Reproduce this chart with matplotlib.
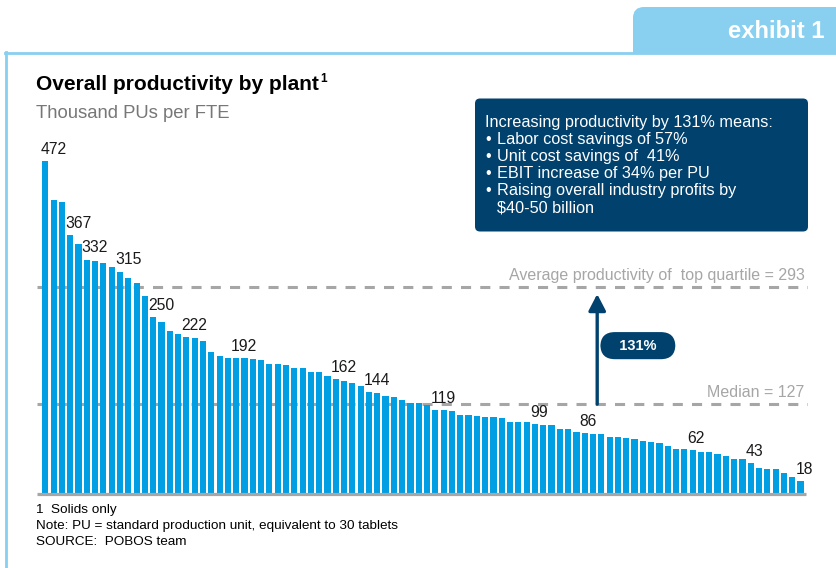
import numpy as np
import matplotlib
matplotlib.use("Agg")
from matplotlib import pyplot as plt
from matplotlib.patches import FancyBboxPatch

plt.rcParams['font.family'] = ['Liberation Sans', 'DejaVu Sans']

# thousand PUs per FTE, plants sorted high to low
productivity = [472, 417, 414, 367, 354, 332, 330, 327, 321, 315,
                306, 299, 281, 250, 244, 231, 226, 222, 221, 217,
                201, 195, 193, 192, 192, 191, 190, 184, 184, 183,
                178, 178, 173, 173, 167, 162, 160, 157, 153, 144,
                143, 139, 137, 133, 129, 129, 126, 119, 119, 117,
                112, 112, 110, 109, 109, 107, 102, 102, 102, 99,
                98, 98, 92, 92, 88, 86, 85, 85, 81, 81,
                79, 78, 75, 73, 72, 67, 63, 63, 62, 59,
                59, 56, 53, 49, 49, 43, 36, 35, 35, 29,
                24, 18]
labelled = [0, 3, 5, 9, 13, 17, 23, 35, 39, 47, 59, 65, 78, 85, 91]

top_quartile = 293
median = 127

box_lines = ["Labor cost savings of 57%",
             "Unit cost savings of  41%",
             "EBIT increase of 34% per PU",
             "Raising overall industry profits by"]

bar_blue = '#009FE3'
navy = '#00416E'
light_blue = '#89CFF0'
line_grey = '#A6A6A6'

W, H = 837, 568
fig = plt.figure(figsize=(W / 100, H / 100), dpi=100)

# page furniture in pixel coordinates, drawn underneath the chart
fa = fig.add_axes([0, 0, 1, 1], zorder=0)
fa.set_xlim(0, W)
fa.set_ylim(H, 0)
fa.axis('off')

fa.add_patch(FancyBboxPatch((633, 7), 230, 60, boxstyle='round,pad=0,rounding_size=11',
                            fc=light_blue, ec='none'))
fa.add_patch(plt.Rectangle((7, 53.5), W, H, fc='white', ec='none'))
fa.plot([6, 6], [52, H], color=light_blue, lw=2)
fa.plot([5, W], [52.5, 52.5], color=light_blue, lw=2)
fa.text(825, 31, "exhibit 1", ha='right', va='center', fontsize=17.2,
        fontweight='bold', color='white')

fa.text(36, 84, "Overall productivity by plant", ha='left', va='center',
        fontsize=15, fontweight='bold', color='black')
fa.text(320, 79, "1", ha='left', va='center', fontsize=8.5, fontweight='bold',
        color='black')
fa.text(36, 114, "Thousand PUs per FTE", ha='left', va='center', fontsize=13.3,
        color='#777777')

fa.add_patch(FancyBboxPatch((475, 98.5), 333, 133, boxstyle='round,pad=0,rounding_size=5',
                            fc=navy, ec='none'))
fa.text(485, 122, "Increasing productivity by 131% means:", ha='left', va='center',
        fontsize=11.7, color='white')
for k, line in enumerate(box_lines):
    yy = 139.3 + k * 17.2
    fa.text(485, yy, "\u2022", ha='left', va='center', fontsize=11.7, color='white')
    fa.text(497, yy, line, ha='left', va='center', fontsize=11.7, color='white')
fa.text(497, 208, "$40-50 billion", ha='left', va='center', fontsize=11.7,
        color='white', parse_math=False)

notes = ["1  Solids only",
         "Note: PU = standard production unit, equivalent to 30 tablets",
         "SOURCE:  POBOS team"]
for k, line in enumerate(notes):
    fa.text(36, 510 + k * 16, line, ha='left', va='center', fontsize=9.7, color='black')

# bar chart
x = np.arange(len(productivity))
ax = fig.add_axes([37 / W, (H - 493.7) / H, (808 - 37) / W, (493.7 - 150) / H], zorder=1)
ax.bar(x, productivity, width=0.74, color=bar_blue, zorder=2)
ax.set_xlim(-1.0, 91.9)
ax.set_ylim(0, 487.5)
ax.axis('off')
ax.plot([-1.0, 91.65], [0, 0], color=line_grey, lw=2.3, clip_on=False, zorder=3,
        solid_capstyle='butt')

for i in labelled:
    ax.annotate(str(productivity[i]), (i - 0.6, productivity[i]), xytext=(0, 3),
                textcoords='offset points', ha='left', va='bottom', fontsize=11.3,
                color='#1a1a1a')

for val, txt in [(top_quartile, "Average productivity of  top quartile = %d" % top_quartile),
                 (median, "Median = %d" % median)]:
    ax.hlines(val, -1.0, 91.9, colors=line_grey, lw=2.2, linestyles=(0, (3.3, 3.0)),
              zorder=1)
    ax.annotate(txt, (91.5, val), xytext=(0, 3), textcoords='offset points',
                ha='right', va='bottom', fontsize=11.5, color='#A6A6A6')

ax.annotate('', xy=(66.5, top_quartile), xytext=(66.5, median),
            arrowprops=dict(arrowstyle='-|>,head_length=0.5,head_width=0.26',
                            mutation_scale=20, lw=2.4, color=navy,
                            shrinkA=0, shrinkB=5))
ax.text(71.4, (top_quartile + median) / 2, "   131%   ", ha='center', va='center',
        fontsize=10.5, fontweight='bold', color='white',
        bbox=dict(boxstyle='round,pad=0.45,rounding_size=1.0', fc=navy, ec='none'))

fig.savefig('out.png', dpi=100)
